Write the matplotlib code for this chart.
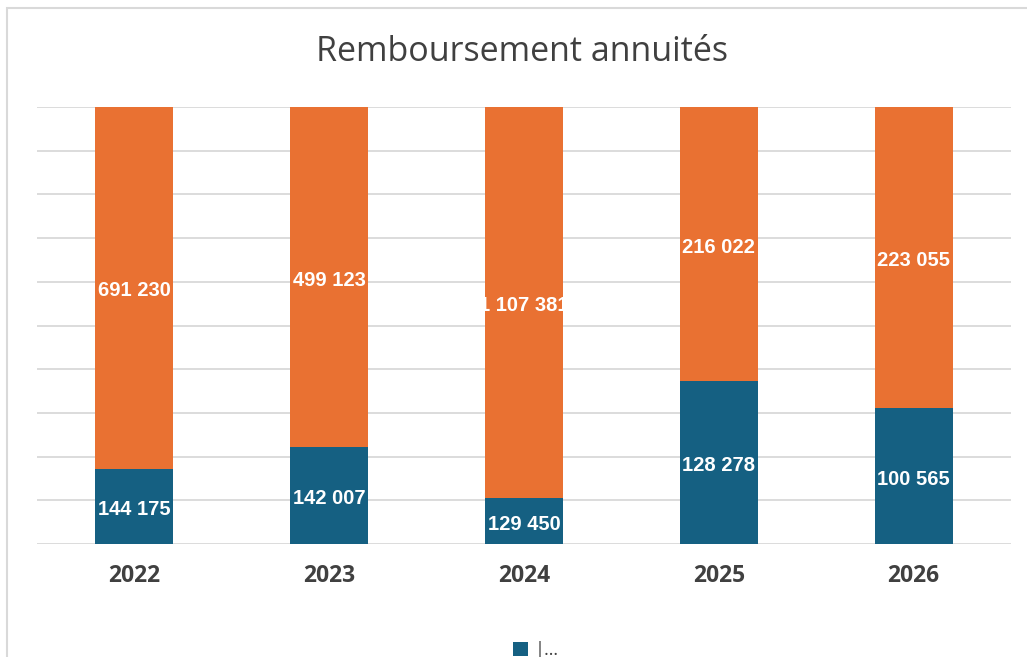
import numpy as np
import matplotlib
matplotlib.use('Agg')
import matplotlib.pyplot as plt
from matplotlib.patches import Rectangle, Patch

years = ['2022', '2023', '2024', '2025', '2026']
capital = [144175, 142007, 129450, 128278, 100565]
interets = [691230, 499123, 1107381, 216022, 223055]

blue = '#156082'
orange = '#E97132'
text_grey = '#404040'

plt.rcParams['font.family'] = ['Open Sans', 'DejaVu Sans']

fig = plt.figure(figsize=(10.27, 6.57), dpi=100)
ax = fig.add_axes([37 / 1027, 1 - 544 / 657, (1011 - 37) / 1027, (544 - 107) / 657])

cap = np.array(capital, dtype=float)
inte = np.array(interets, dtype=float)
total = cap + inte
cap_pct = cap / total * 100
int_pct = inte / total * 100

x = np.arange(len(years))
bars_cap = ax.bar(x, cap_pct, width=0.4, color=blue, zorder=3)
bars_int = ax.bar(x, int_pct, width=0.4, bottom=cap_pct, color=orange, zorder=3)


def fmt(v):
    return f'{v:,}'.replace(',', ' ')


# data labels, clipped to the bar like in the original
for bars, vals, bottoms, heights in [(bars_cap, capital, np.zeros(len(x)), cap_pct),
                                     (bars_int, interets, cap_pct, int_pct)]:
    for b, v, bt, h in zip(bars, vals, bottoms, heights):
        t = ax.text(b.get_x() + b.get_width() / 2, bt + h / 2 - 0.7, fmt(v), ha='center', va='center',
                    color='white', fontsize=14.5, fontweight='bold', zorder=4,
                    family=['Liberation Sans', 'DejaVu Sans'])
        t.set_clip_path(b)

ax.set_xlim(-0.5, len(years) - 0.5)
ax.set_ylim(0, 100)
ax.set_yticks(np.arange(0, 101, 10))
ax.yaxis.grid(True, color='#d9d9d9', linewidth=1.3, zorder=0)
ax.set_axisbelow(True)
ax.tick_params(axis='y', left=False, labelleft=False)
ax.tick_params(axis='x', length=0, pad=14.5)
ax.set_xticks(x)
ax.set_xticklabels(years, fontsize=16.5, fontweight='bold', color=text_grey)
for s in ax.spines.values():
    s.set_visible(False)

fig.text(522 / 1027, 1 - 52 / 657, 'Remboursement annuités', ha='center', va='center',
         fontsize=24.5, color=text_grey)

# legend, mostly cut off at the bottom
fig.legend(handles=[Patch(facecolor=blue)], labels=['|…'], loc='upper center',
           bbox_to_anchor=(0.522, 1 - 625 / 657), frameon=False, fontsize=13,
           handlelength=0.8, handleheight=0.8, handletextpad=0.4,
           labelcolor=text_grey)

# chart border, running past the right and bottom edge
fig.patches.append(Rectangle((7 / 1027, -0.1), 1.2, 1.1 - 8 / 657, transform=fig.transFigure,
                             fill=False, edgecolor='#d9d9d9', linewidth=1.5))

fig.savefig('out.png', dpi=100)
